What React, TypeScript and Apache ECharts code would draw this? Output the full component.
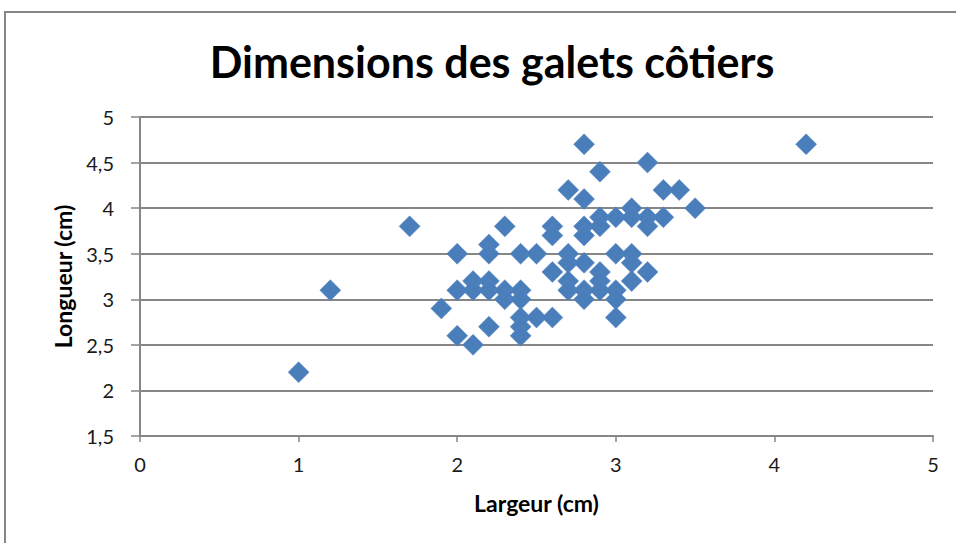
import React, { useEffect, useRef } from "react";
import * as echarts from "echarts";

const largeur: number[] = [
  1, 1.2, 1.7, 1.9,
  2, 2, 2,
  2.1, 2.1, 2.1,
  2.2, 2.2, 2.2, 2.2, 2.2,
  2.3, 2.3, 2.3,
  2.4, 2.4, 2.4, 2.4, 2.4, 2.4,
  2.5, 2.5,
  2.6, 2.6, 2.6, 2.6,
  2.7, 2.7, 2.7, 2.7, 2.7,
  2.8, 2.8, 2.8, 2.8, 2.8, 2.8, 2.8,
  2.9, 2.9, 2.9, 2.9, 2.9, 2.9,
  3, 3, 3, 3, 3,
  3.1, 3.1, 3.1, 3.1, 3.1,
  3.2, 3.2, 3.2, 3.2,
  3.3, 3.3,
  3.4, 3.5, 4.2,
];
const longueur: number[] = [
  2.2, 3.1, 3.8, 2.9,
  3.5, 3.1, 2.6,
  3.2, 3.1, 2.5,
  3.6, 3.5, 3.2, 3.1, 2.7,
  3.8, 3.1, 3.0,
  3.5, 3.1, 3.0, 2.8, 2.7, 2.6,
  3.5, 2.8,
  3.8, 3.7, 3.3, 2.8,
  4.2, 3.5, 3.4, 3.2, 3.1,
  4.7, 4.1, 3.8, 3.7, 3.4, 3.1, 3.0,
  4.4, 3.9, 3.8, 3.3, 3.2, 3.1,
  3.9, 3.5, 3.1, 3.0, 2.8,
  4.0, 3.9, 3.5, 3.4, 3.2,
  4.5, 3.9, 3.8, 3.3,
  4.2, 3.9,
  4.2, 4.0, 4.7,
];

const titleText = "Dimensions des galets côtiers";
const xAxisName = "Largeur (cm)";
const yAxisName = "Longueur (cm)";

const FONT = "Lato";

export default function App() {
  const ref = useRef<HTMLDivElement>(null);
  useEffect(() => {
    if (!ref.current) return;
    const chart = echarts.init(ref.current, undefined, { renderer: "svg" });
    const data = largeur.map((x, i) => [x, longueur[i]]);
    chart.setOption({
      animation: false,
      backgroundColor: "#ffffff",
      textStyle: { fontFamily: FONT },
      title: {
        text: titleText,
        left: 487,
        textAlign: "center",
        top: 35,
        textStyle: { fontSize: 43, fontWeight: "bold", color: "#000", fontFamily: FONT },
      },
      graphic: [
        {
          type: "rect",
          shape: { x: 5, y: 12, width: 1000, height: 600 },
          style: { fill: "none", stroke: "#868686", lineWidth: 2 },
          silent: true,
        },
      ],
      grid: { left: 140, right: 23, top: 117, bottom: 107 },
      xAxis: {
        type: "value",
        min: 0,
        max: 5,
        interval: 1,
        name: xAxisName,
        nameLocation: "middle",
        nameGap: 55,
        nameTextStyle: { fontSize: 23, fontWeight: "bold", color: "#000", fontFamily: FONT },
        axisLine: { show: true, lineStyle: { color: "#868686", width: 2 } },
        axisTick: { show: true, length: 6, lineStyle: { color: "#868686", width: 1.5 } },
        axisLabel: { fontSize: 20, color: "#1a1a1a", margin: 18, fontFamily: FONT },
        splitLine: { show: false },
      },
      yAxis: {
        type: "value",
        min: 1.5,
        max: 5,
        interval: 0.5,
        name: yAxisName,
        nameLocation: "middle",
        nameGap: 66,
        nameRotate: 90,
        nameTextStyle: { fontSize: 23, fontWeight: "bold", color: "#000", fontFamily: FONT },
        axisLine: { show: true, lineStyle: { color: "#868686", width: 2 } },
        axisTick: { show: true, length: 9, lineStyle: { color: "#868686", width: 1.5 } },
        axisLabel: {
          fontSize: 20,
          color: "#1a1a1a",
          margin: 26,
          fontFamily: FONT,
          formatter: (v: number) => String(v).replace(".", ","),
        },
        splitLine: { show: true, lineStyle: { color: "#868686", width: 2 } },
      },
      series: [
        {
          type: "scatter",
          data,
          symbol: "diamond",
          symbolSize: 21,
          itemStyle: { color: "#4a7ebb", opacity: 1, borderColor: "#5a8ac4", borderWidth: 0.5 },
        },
      ],
    });
    return () => chart.dispose();
  }, []);
  return (
    <div
      ref={ref}
      style={{ position: "absolute", left: 0, top: 0, width: 956, height: 543 }}
    />
  );
}
